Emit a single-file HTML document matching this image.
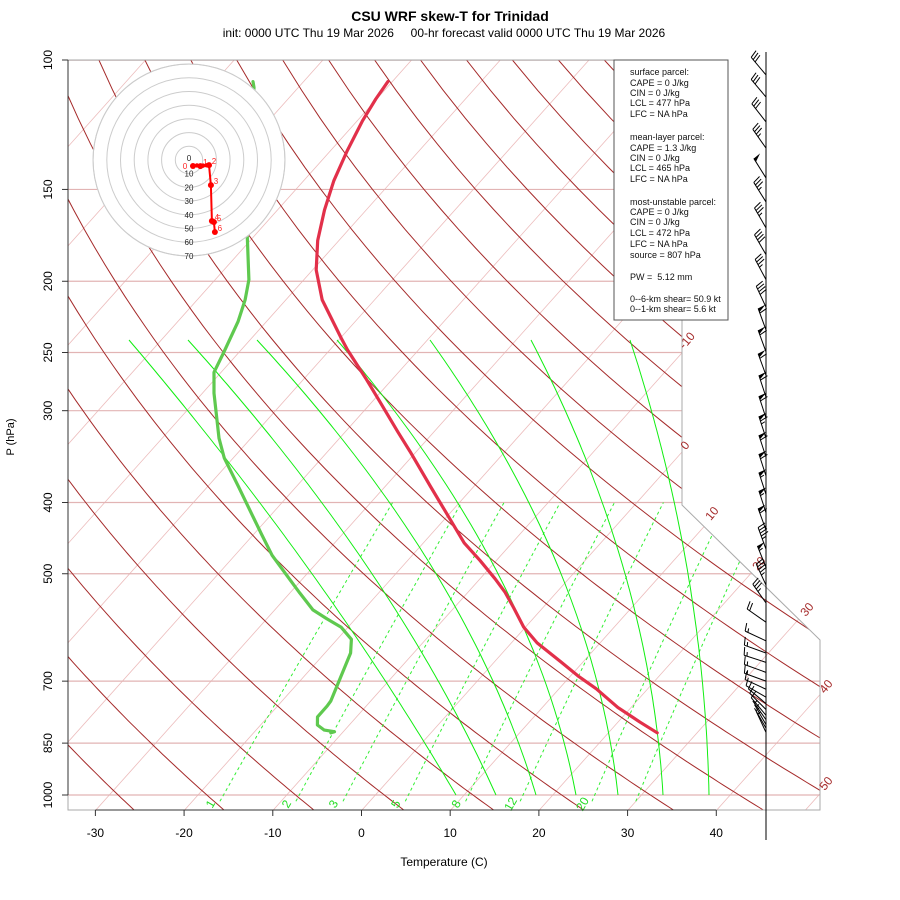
<!DOCTYPE html>
<html><head><meta charset="utf-8">
<style>
html,body{margin:0;padding:0;background:#fff;}
svg{display:block;font-family:"Liberation Sans",sans-serif;}
</style></head>
<body>
<svg id="chart" width="900" height="900" viewBox="0 0 900 900" xmlns="http://www.w3.org/2000/svg">
<defs>
<clipPath id="plotclip"><polygon points="68,60 682,60 682,505 820,640 820,810 68,810"/></clipPath>
</defs>
<text x="450" y="21" text-anchor="middle" font-size="14" font-weight="bold">CSU WRF skew-T for Trinidad</text>
<text x="444" y="37" text-anchor="middle" font-size="12" style="white-space:pre">init: 0000 UTC Thu 19 Mar 2026     00-hr forecast valid 0000 UTC Thu 19 Mar 2026</text>
<g id="grid" clip-path="url(#plotclip)"></g>
<polygon points="68,60 682,60 682,505 820,640 820,810 68,810" fill="none" stroke="#aaa" stroke-width="1"/>
<g id="labels"></g>
<g id="axes"></g>
<g id="series" clip-path="url(#plotclip)"></g>
<g id="hodo"></g>
<g id="barbs"></g>
<g>
<rect x="614" y="60" width="114" height="260" fill="#fff" stroke="#555" stroke-width="1"/>
<g font-size="9" fill="#111">
<text x="630" y="75">surface parcel:</text>
<text x="630" y="86">CAPE = 0 J/kg</text>
<text x="630" y="96">CIN = 0 J/kg</text>
<text x="630" y="106">LCL = 477 hPa</text>
<text x="630" y="117">LFC = NA hPa</text>
<text x="630" y="140">mean-layer parcel:</text>
<text x="630" y="151">CAPE = 1.3 J/kg</text>
<text x="630" y="161">CIN = 0 J/kg</text>
<text x="630" y="171">LCL = 465 hPa</text>
<text x="630" y="182">LFC = NA hPa</text>
<text x="630" y="205">most-unstable parcel:</text>
<text x="630" y="215">CAPE = 0 J/kg</text>
<text x="630" y="225">CIN = 0 J/kg</text>
<text x="630" y="236">LCL = 472 hPa</text>
<text x="630" y="247">LFC = NA hPa</text>
<text x="630" y="258">source = 807 hPa</text>
<text x="630" y="280" style="white-space:pre">PW =  5.12 mm</text>
<text x="630" y="302">0--6-km shear= 50.9 kt</text>
<text x="630" y="312">0--1-km shear= 5.6 kt</text>
</g>
</g>
<text x="14" y="437" font-size="11" text-anchor="middle" transform="rotate(-90 14 437)">P (hPa)</text>
<text x="444" y="866" font-size="12" text-anchor="middle">Temperature (C)</text>
<script>
// ---- data ----
const tempP = [823,796,760,717,690,659,621,591,556,530,508,480,454,409,381,341,321,286,271,248,239,212,193,176,160,146,133,121,113,107];
const tempT = [25.5,22.5,18.5,14.2,11.0,7.5,2.9,-0.2,-3.3,-5.8,-8.3,-11.8,-15.4,-21.0,-24.8,-30.7,-34.0,-40.2,-43.1,-48.0,-49.9,-55.9,-59.6,-62.4,-64.7,-66.6,-68.1,-69.4,-70.1,-70.5];
const dewP = [823,820,816,803,783,757,745,691,641,614,591,576,560,531,508,472,442,380,348,327,284,266,250,227,212,199,174,109,107];
const dewT = [-11.3,-11.0,-12.3,-13.6,-14.4,-14.4,-14.5,-15.8,-17.1,-18.4,-20.8,-23.2,-25.7,-28.9,-31.5,-35.8,-39.1,-46.6,-51.0,-53.6,-58.7,-60.8,-61.7,-63.2,-64.6,-66.2,-70.7,-85.0,-85.7];
const windP = [104.8,112.3,121.4,131.8,144.7,156,169.2,184,199,216.9,233,249.5,268.5,287.6,307,327,347,368,390,413,436,463,490,518,548,582,617,641,660,681,700,718,736,751,765,779,790,802,811,822];
const windDir = [320,320,322,325,328,328,330,330,332,335,340,340,340,342,342,342,342,342,342,342,340,340,338,335,325,305,295,290,288,290,290,295,300,310,315,320,325,330,330,335];
const windSpd = [30,30,30,35,50,35,35,40,35,40,60,60,60,60,60,65,60,60,55,55,60,45,55,45,35,20,15,15,15,15,15,10,10,10,10,10,5,5,5,5];
const hodoU = [2.9,5.8,8.3,10.3,12.8,14.6,16.0,16.7,18.2,18.9];
const hodoV = [-4.4,-4.0,-4.5,-4.1,-3.9,-3.7,-18.3,-44.5,-45.3,-52.6];
const hodoLab = ['0','','1','','','2','3','4','5','6'];
const xTicks = [-30,-20,-10,0,10,20,30,40];
const pTicks = [100,150,200,250,300,400,500,700,850,1000];
const isoLabT = [-10,0,10,20,30,40,50];
const mixW = [1,2,3,5,8,12,20,27];
const mixLab = ['1','2','3','5','8','12','20',''];
const dryTheta = [];
for (let t=-50;t<=260;t+=10) dryTheta.push(t+1.0);
// moist adiabat guide curves: x at 250, 500, 1000 hPa (pixel guide geometry)
const moistTop = [129,188,257,337,430,531,630];
const moistMid = [312,372,436,498,561,625,688];
const moistBot = [456,496,536,576,618,663,709];

// ---- scales ----
const NS='http://www.w3.org/2000/svg';
function yP(p){return 60+735*Math.log10(p/100);}
function xT(T,p){return 362+8.87*T+0.894*(810-yP(p));}
function mk(tag,attrs,parent){const e=document.createElementNS(NS,tag);for(const k in attrs)e.setAttribute(k,attrs[k]);parent.appendChild(e);return e;}
const grid=document.getElementById('grid');
const labels=document.getElementById('labels');
const axes=document.getElementById('axes');
const series=document.getElementById('series');

for(let T=-160;T<=60;T+=10){
  const l=mk('line',{x1:xT(T,1050),y1:yP(1050),x2:xT(T,100),y2:yP(100),stroke:'#ecbcbc','stroke-width':0.8},grid);
  
  
}
pTicks.forEach(p=>{
  const l=mk('line',{x1:68,x2:820,y1:yP(p),y2:yP(p),stroke:p===100?'#b07070':'#e2b4b4','stroke-width':1.2},grid);
  
  
});
dryTheta.forEach(th=>{
  let d='';
  for(let p=1050;p>=100;p-=10){const T=(th+273.15)*Math.pow(p/1000,0.2857)-273.15;d+=(d?'L':'M')+xT(T,p).toFixed(1)+','+yP(p).toFixed(1);}
  const e=mk('path',{d:d,fill:'none',stroke:'#a52a2a','stroke-width':1},grid);
  
  
});
mixW.forEach((w,i)=>{
  let d='';let x0=0;
  for(let p=1020;p>=400;p-=10){const e=w*p/(622+w);const L=Math.log(e/6.112);const Td=243.5*L/(17.67-L);const x=xT(Td,p);if(p===1020)x0=x;d+=(d?'L':'M')+x.toFixed(1)+','+yP(p).toFixed(1);}
  const e=mk('path',{d:d,fill:'none',stroke:'#33ee33','stroke-width':1,'stroke-dasharray':'3,3'},grid);
  
  
  if(mixLab[i]){
    const t=mk('text',{x:x0-6,y:806,'font-size':12,fill:'#22dd22','text-anchor':'middle',transform:`rotate(-60 ${x0-6} 806)`},labels);
    t.textContent=mixLab[i];
    
    
  }
});
moistTop.forEach((xt,i)=>{
  const y0=340,y1=yP(500),y2=795,a=xt,b=moistMid[i],c=moistBot[i];
  let d='';
  for(let y=y0;y<=y2;y+=5){
    const L0=(y-y1)*(y-y2)/((y0-y1)*(y0-y2)),L1=(y-y0)*(y-y2)/((y1-y0)*(y1-y2)),L2=(y-y0)*(y-y1)/((y2-y0)*(y2-y1));
    d+=(d?'L':'M')+(a*L0+b*L1+c*L2).toFixed(1)+','+y;
  }
  const e=mk('path',{d:d,fill:'none',stroke:'#11ee11','stroke-width':1},grid);
  
  
});
const isoPos=[[690,343],[688,448],[715,516],[762,566],[810,612],[829,689],[829,786]];
isoLabT.forEach((T,i)=>{
  const [x,y]=isoPos[i];
  const t=mk('text',{x:x,y:y,'font-size':12,fill:'#a52a2a','text-anchor':'middle',transform:`rotate(-50 ${x} ${y})`},labels);
  t.textContent=String(T);
  
  
});
mk('line',{x1:68,y1:60,x2:68,y2:795,stroke:'#333','stroke-width':1},axes);
pTicks.forEach(p=>{
  const y=yP(p);
  mk('line',{x1:62,x2:68,y1:y,y2:y,stroke:'#333'},axes);
  const t=mk('text',{x:52,y:y,'font-size':12,'text-anchor':'middle',transform:`rotate(-90 52 ${y})`},axes);
  t.textContent=String(p);
  
  
});
mk('line',{x1:xT(xTicks[0],1050),y1:810,x2:xT(xTicks[xTicks.length-1],1050),y2:810,stroke:'#333'},axes);
xTicks.forEach(T=>{
  const x=xT(T,1050);
  mk('line',{x1:x,x2:x,y1:810,y2:816,stroke:'#333'},axes);
  const t=mk('text',{x:x,y:837,'font-size':12,'text-anchor':'middle'},axes);
  t.textContent=String(T);
  
  
});
function linePath(P,T){return P.map((p,i)=>(i?'L':'M')+xT(T[i],p).toFixed(1)+','+yP(p).toFixed(1)).join('');}
const dl=mk('path',{d:linePath(dewP,dewT),fill:'none',stroke:'#5fc94f','stroke-width':3.2,'stroke-linejoin':'round','stroke-linecap':'round'},series);


const tl=mk('path',{d:linePath(tempP,tempT),fill:'none',stroke:'#e2304a','stroke-width':3.2,'stroke-linejoin':'round','stroke-linecap':'round'},series);


const hodo=document.getElementById('hodo');
const hc=[189,160],hs=1.37;
mk('circle',{cx:hc[0],cy:hc[1],r:96,fill:'#fff',stroke:'#ccc'},hodo);
for(let k=1;k<=7;k++){mk('circle',{cx:hc[0],cy:hc[1],r:13.7*k,fill:'none',stroke:'#ccc','stroke-width':1},hodo);}
for(let k=0;k<=7;k++){
  const t=mk('text',{x:hc[0],y:hc[1]+13.7*k+(k===0?1:3),'font-size':8,'text-anchor':'middle',fill:'#222'},hodo);
  t.textContent=String(k*10);
  
  
}
const hp=hodoU.map((u,i)=>[hc[0]+u*hs,hc[1]-hodoV[i]*hs]);
const hl=mk('path',{d:hp.map((q,i)=>(i?'L':'M')+q[0].toFixed(1)+','+q[1].toFixed(1)).join(''),fill:'none',stroke:'#f00','stroke-width':2},hodo);


hp.forEach((q,i)=>{
  const c=mk('circle',{cx:q[0],cy:q[1],r:hodoLab[i]?3:2.2,fill:'#f00'},hodo);
  
  
  if(hodoLab[i]){
    const t=mk('text',{x:q[0]+(i===0?-8:5),y:q[1]+(i===0?3:-1),'font-size':8,fill:'#f22','text-anchor':'middle'},hodo);
    t.textContent=hodoLab[i];
    
    
  }
});
const barbs=document.getElementById('barbs');
mk('line',{x1:766,y1:52,x2:766,y2:840,stroke:'#000','stroke-width':1},barbs);
windP.forEach((p,i)=>{
  const bx=766,by=yP(p),a=windDir[i]*Math.PI/180;
  const sx=Math.sin(a),sy=-Math.cos(a);const px=-sy,py=sx;
  const L=23,tx=bx+L*sx,ty=by+L*sy;
  const g=mk('g',{},barbs);
  
  
  mk('line',{x1:bx,y1:by,x2:tx,y2:ty,stroke:'#000','stroke-width':1},g);
  let s=windSpd[i],pos=0;
  const pt=d=>[tx-sx*d,ty-sy*d];
  while(s>=50){const [ax,ay]=pt(pos),[cx,cy]=pt(pos+4);mk('polygon',{points:`${ax},${ay} ${ax+px*8+sx*1},${ay+py*8+sy*1} ${cx},${cy}`,fill:'#000'},g);pos+=5;s-=50;}
  while(s>=10){const [ax,ay]=pt(pos);mk('line',{x1:ax,y1:ay,x2:ax+px*8+sx*2,y2:ay+py*8+sy*2,stroke:'#000'},g);pos+=3;s-=10;}
  if(s>=5){if(pos===0)pos=3;const [ax,ay]=pt(pos);mk('line',{x1:ax,y1:ay,x2:ax+px*4+sx*1,y2:ay+py*4+sy*1,stroke:'#000'},g);}
});
</script>
</svg>
</body></html>
